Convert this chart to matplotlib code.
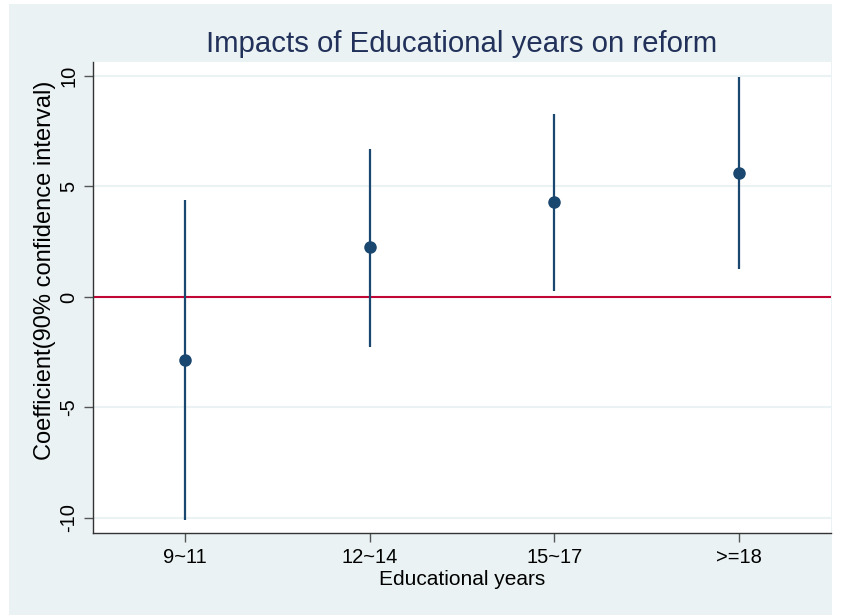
import numpy as np
import matplotlib
matplotlib.use("Agg")
import matplotlib.pyplot as plt
from matplotlib.patches import Rectangle

plt.rcParams['font.family'] = ['Liberation Sans', 'DejaVu Sans']

# coefficient estimates with 90% confidence bounds by schooling group
groups = ["9~11", "12~14", "15~17", ">=18"]
coef = [-2.85, 2.25, 4.28, 5.60]
ci_low = [-10.09, -2.25, 0.29, 1.25]
ci_high = [4.39, 6.70, 8.28, 9.97]
yticks = [-10, -5, 0, 5, 10]

navy = "#1A476F"
bg = "#EAF2F3"

W, H = 842, 615
fig = plt.figure(figsize=(W / 100, H / 100), dpi=100, facecolor="white")
fig.patches.append(Rectangle((9 / W, 0), (832 - 9) / W, (H - 4) / H,
                             transform=fig.transFigure, facecolor=bg,
                             edgecolor="none", zorder=-1))

ax = fig.add_axes([93 / W, (H - 533) / H, (831 - 93) / W, (533 - 62) / H])
ax.set_zorder(1)
ax.set_facecolor("white")

x = np.arange(1, len(groups) + 1)
ax.axhline(0, color="#C10534", lw=1.5, zorder=2)
ax.vlines(x, ci_low, ci_high, color=navy, lw=1.6, zorder=3)
ax.plot(x, coef, "o", color=navy, markersize=8, zorder=4)

ax.set_xlim(0.5, 4.5)
ax.set_ylim(-10.68, 10.63)
ax.set_xticks(x)
ax.set_xticklabels(groups)
ax.set_yticks(yticks)
ax.set_yticklabels([str(v) for v in yticks], rotation=90, va="center")
ax.grid(axis="y", color=bg, lw=1.5, zorder=1)
ax.set_axisbelow(True)

for side in ["top", "right"]:
    ax.spines[side].set_visible(False)
for side in ["left", "bottom"]:
    ax.spines[side].set_color("#333333")
    ax.spines[side].set_linewidth(1.0)
ax.tick_params(axis="both", direction="out", length=6.5, width=1.0,
               color="#555555", labelsize=14.5, pad=4)

fig.text(462 / W, 1 - 52 / H, "Impacts of Educational years on reform",
         ha="center", va="baseline", fontsize=21.2, color="#22315A")
fig.text(462 / W, 1 - 585 / H, "Educational years",
         ha="center", va="baseline", fontsize=15)
fig.text(45 / W, 1 - 270 / H, "Coefficient(90% confidence interval)",
         ha="center", va="center", rotation=90, fontsize=17)

fig.savefig("out.png", dpi=100, facecolor=fig.get_facecolor())
